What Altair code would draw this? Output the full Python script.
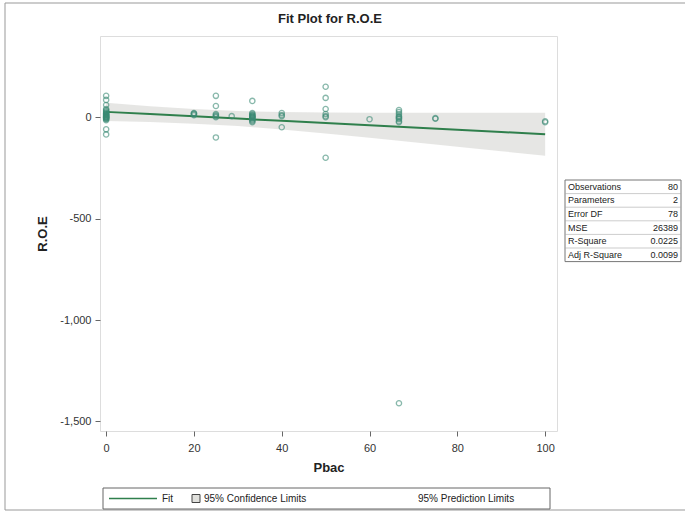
import altair as alt
import pandas as pd

# ---------------- data ----------------
pbac = (
    [0] * 24
    + [20] * 4
    + [25] * 7
    + [28.6]
    + [33.3] * 14
    + [40] * 4
    + [50] * 7
    + [60]
    + [66.7] * 10
    + [75] * 2
    + [100] * 2
)
roe = (
    [105, 85, 60, 40, 35, 30, 25, 20, 18, 15, 12, 10, 8, 5, 3, 0, 0, -2, -5, -8, -10, -15, -60, -85]
    + [20, 15, 10, 18]
    + [105, 55, 15, 5, 0, 10, -100]
    + [5]
    + [80, 20, 15, 10, 5, 2, 0, -2, -5, -10, -15, -20, -25, 8]
    + [20, 10, 5, -50]
    + [150, 95, 40, 15, 5, 0, -200]
    + [-10]
    + [35, 25, 15, 5, 0, -5, -10, -20, -25, -1410]
    + [-5, -8]
    + [-20, -25]
)

band_x = [0, 10, 20, 30, 40, 50, 60, 70, 80, 90, 100]
fit_y = [26, 15, 4, -7, -18, -29, -40, -51, -62, -73, -84]
cl_upper = [71, 54, 40, 30, 25, 23, 22, 22, 22, 22, 22]
cl_lower = [-19, -24, -32, -44, -61, -81, -102, -124, -146, -168, -190]

stat_names = ["Observations", "Parameters", "Error DF", "MSE", "R-Square", "Adj R-Square"]
stat_values = ["80", "2", "78", "26389", "0.0225", "0.0099"]

x_ticks = [0, 20, 40, 60, 80, 100]
y_ticks = [0, -500, -1000, -1500]

title_text = "Fit Plot for R.O.E"
legend_texts = ["Fit", "95% Confidence Limits", "95% Prediction Limits"]

# ---------------- chart ----------------
W, H = 457, 395
FONT = "Liberation Sans"

pts = pd.DataFrame({"Pbac": pbac, "ROE": roe})
band = pd.DataFrame({"Pbac": band_x, "fit": fit_y, "lo": cl_lower, "hi": cl_upper})

xscale = alt.Scale(domain=[-1.4, 102.7], nice=False, zero=False)
yscale = alt.Scale(domain=[-1547, 400], nice=False, zero=False)

xaxis = alt.Axis(values=x_ticks, title="Pbac", grid=False, domain=False,
                 tickColor="#666", tickSize=5, labelFont=FONT, labelFontSize=11,
                 labelColor="#333", labelPadding=6, titleFont=FONT, titleFontSize=13,
                 titleFontWeight="bold", titleColor="#222", titlePadding=8)
yaxis = alt.Axis(values=y_ticks, title="R.O.E", grid=False, domain=False,
                 labelExpr="replace(format(datum.value, ',d'), '\u2212', '-')",
                 tickColor="#666", tickSize=5, labelFont=FONT, labelFontSize=11,
                 labelColor="#333", labelPadding=4, titleFont=FONT, titleFontSize=13,
                 titleFontWeight="bold", titleColor="#222", titlePadding=10)

area = alt.Chart(band).mark_area(color="#dedddb", opacity=0.75).encode(
    x=alt.X("Pbac:Q", scale=xscale, axis=xaxis),
    y=alt.Y("lo:Q", scale=yscale, axis=yaxis),
    y2="hi:Q",
)
line = alt.Chart(band).mark_line(color="#2f7f4c", strokeWidth=2).encode(
    x=alt.X("Pbac:Q", scale=xscale),
    y=alt.Y("fit:Q", scale=yscale),
)
points = alt.Chart(pts).mark_point(
    shape="circle", filled=False, size=28, strokeWidth=1.3, color="#3a8a74", opacity=0.6
).encode(
    x=alt.X("Pbac:Q", scale=xscale),
    y=alt.Y("ROE:Q", scale=yscale),
)

# ---- statistics inset (pixel positions relative to the plot area) ----
n = len(stat_names)
row_h = 13.6
tbl = pd.DataFrame({
    "name": stat_names,
    "val": stat_values,
    "ty": [144 + row_h * (i + 0.5) for i in range(n)],
    "ly": [144 + row_h * (i + 1) for i in range(n)],
})
tbl_box = alt.Chart(pd.DataFrame({"a": [0]})).mark_rect(
    fill="white", stroke="#777", strokeWidth=1
).encode(x=alt.value(465), x2=alt.value(581), y=alt.value(144), y2=alt.value(144 + row_h * n))
tbl_lines = alt.Chart(tbl.iloc[:-1]).mark_rule(color="#aaa", strokeWidth=0.6).encode(
    x=alt.value(465), x2=alt.value(581), y=alt.Y("ly:Q", scale=None)
)
tbl_names = alt.Chart(tbl).mark_text(
    align="left", baseline="middle", font=FONT, fontSize=9, color="#222"
).encode(x=alt.value(468), y=alt.Y("ty:Q", scale=None), text="name:N")
tbl_vals = alt.Chart(tbl).mark_text(
    align="right", baseline="middle", font=FONT, fontSize=9, color="#222"
).encode(x=alt.value(578), y=alt.Y("ty:Q", scale=None), text="val:N")

# ---- title as text (placed above the plot area) ----
one = pd.DataFrame({"a": [0]})
title_mark = alt.Chart(pd.DataFrame({"t": [title_text]})).mark_text(
    align="center", baseline="middle", font=FONT, fontSize=13, fontWeight="bold", color="#222"
).encode(x=alt.value(230), y=alt.value(-17), text="t:N")

# ---- bottom legend ----
leg_box = alt.Chart(one).mark_rect(fill="white", stroke="#666", strokeWidth=1).encode(
    x=alt.value(3), x2=alt.value(450), y=alt.value(57 + 395), y2=alt.value(78 + 395)
)
leg_line = alt.Chart(one).mark_rule(color="#2f7f4c", strokeWidth=1.5).encode(
    x=alt.value(9), x2=alt.value(57), y=alt.value(67.5 + 395)
)
leg_sq = alt.Chart(one).mark_rect(fill="#e0e0dc", stroke="#444", strokeWidth=1).encode(
    x=alt.value(92), x2=alt.value(100), y=alt.value(63.5 + 395), y2=alt.value(71.5 + 395)
)
leg_txt = alt.Chart(pd.DataFrame({
    "t": legend_texts,
    "px": [62, 104, 318],
})).mark_text(align="left", baseline="middle", font=FONT, fontSize=10, color="#222").encode(
    x=alt.X("px:Q", scale=None), y=alt.value(68 + 395), text="t:N"
)

# ---- outer page frame ----
frame = alt.Chart(one).mark_rect(fill=None, stroke="#999", strokeWidth=1).encode(
    x=alt.value(-95), x2=alt.value(590), y=alt.value(-33), y2=alt.value(474)
)

chart = alt.layer(
    frame, area, line, points, tbl_box, tbl_lines, tbl_names, tbl_vals,
    title_mark, leg_box, leg_line, leg_sq, leg_txt,
).properties(
    width=W, height=H,
    autosize=alt.AutoSizeParams(type="none"),
    padding={"left": 100, "top": 36, "right": 128, "bottom": 91},
).configure_view(stroke="#777", strokeWidth=1).configure(background="white")

chart.save("out.html", embed_options={"renderer": "svg", "actions": False})
